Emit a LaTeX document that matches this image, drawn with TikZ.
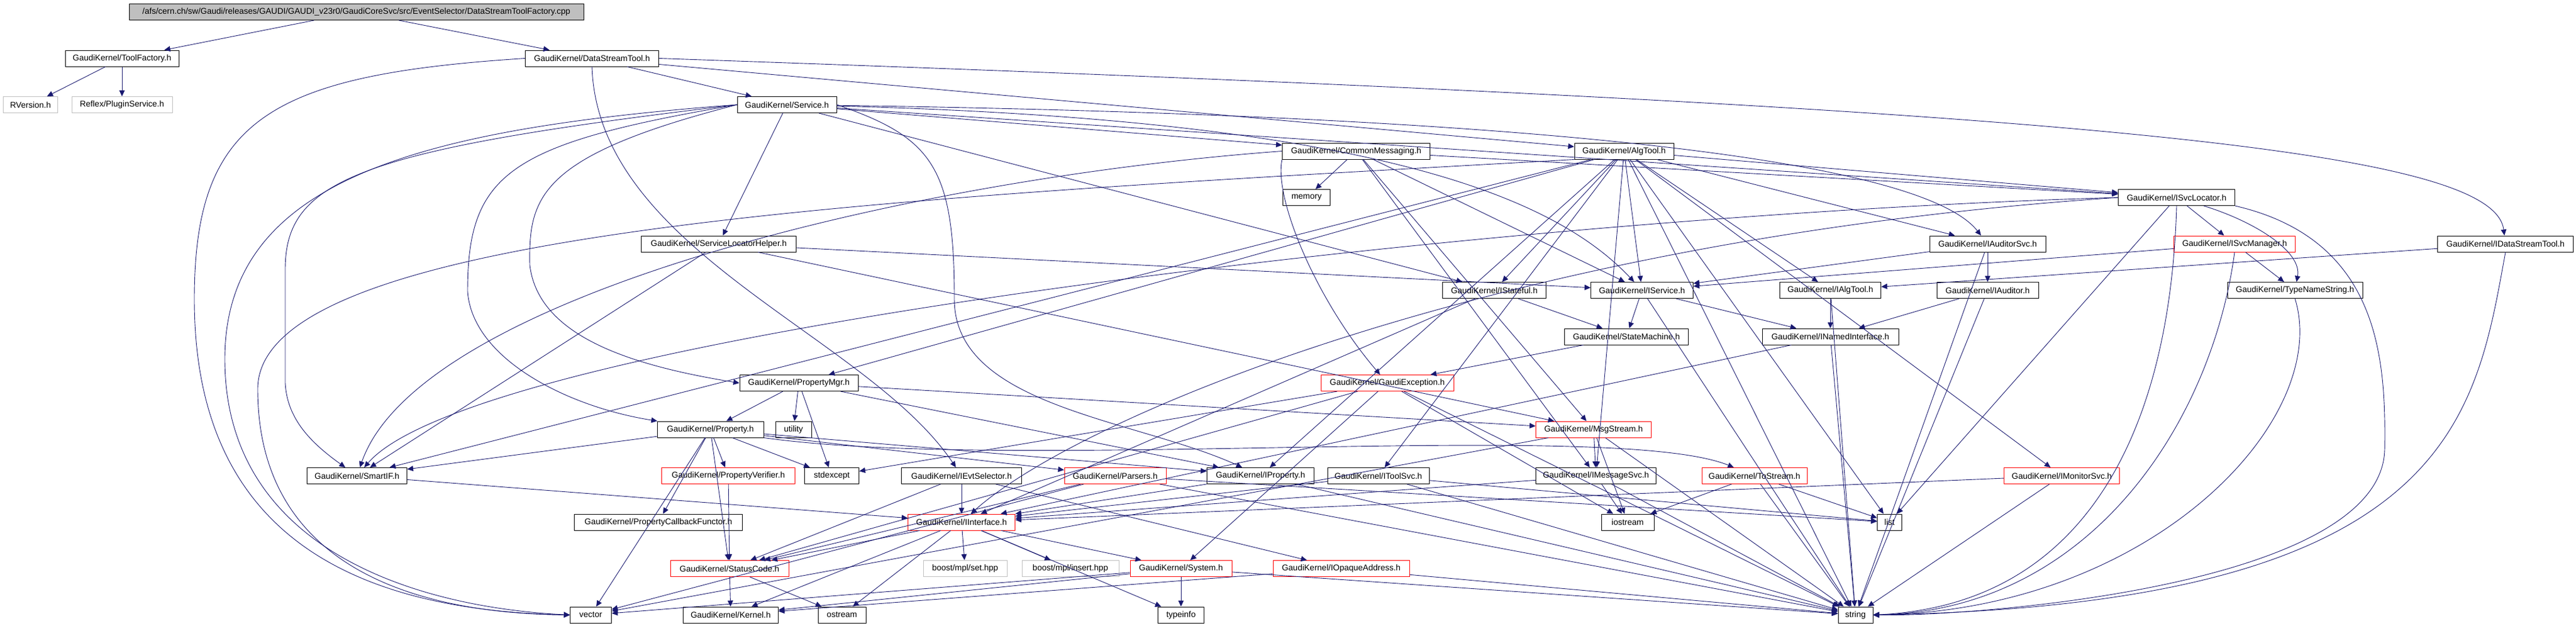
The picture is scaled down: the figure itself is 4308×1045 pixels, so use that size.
\documentclass[tikz,border=0pt]{standalone}
\usepackage{fontspec}
\setmainfont{Liberation Sans}
\usetikzlibrary{arrows.meta}
\definecolor{edgeblue}{RGB}{25,25,112}
\definecolor{rootgray}{RGB}{191,191,191}
\definecolor{leafgray}{RGB}{191,191,191}
\begin{document}
\begin{tikzpicture}[x=0.5pt,y=-0.5pt,
  box/.style={draw=black, line width=0.5pt, minimum height=13.5pt, inner xsep=5pt, inner ysep=0pt, font=\fontsize{7}{8.4}\selectfont, text=black, fill=white},
  redbox/.style={box, draw=red},
  graybox/.style={box, draw=leafgray},
  rootbox/.style={box, fill=rootgray},
  dep/.style={draw=edgeblue, line width=0.45pt, -{Triangle[length=5pt,width=4.5pt]}}]
\useasboundingbox (0,0) rectangle (4308,1045);
\fill[white] (0,0) rectangle (4308,1045);
% rank 0-2
\node[rootbox, minimum width=380pt] (root) at (596,20) {/afs/cern.ch/sw/Gaudi/releases/GAUDI/GAUDI\_v23r0/GaudiCoreSvc/src/EventSelector/DataStreamToolFactory.cpp};
\node[box, minimum width=95pt] (toolfac) at (204,97.5) {GaudiKernel/ToolFactory.h};
\node[box, minimum width=111.5pt] (dstool) at (990,97.5) {GaudiKernel/DataStreamTool.h};
\node[graybox, minimum width=45.5pt] (rversion) at (51,175) {RVersion.h};
\node[graybox, minimum width=84pt] (plugin) at (204,175) {Reflex/PluginService.h};
\node[box, minimum width=83pt] (service) at (1316,175) {GaudiKernel/Service.h};
% rank 3-4
\node[box, minimum width=123.5pt] (commsg) at (2268,252.5) {GaudiKernel/CommonMessaging.h};
\node[box, minimum width=83pt] (algtool) at (2716,252.5) {GaudiKernel/AlgTool.h};
\node[box, minimum width=39.5pt] (memory) at (2185,330) {memory};
\node[box, minimum width=97.5pt] (isvcloc) at (3640,330) {GaudiKernel/ISvcLocator.h};
% rank 5
\node[box, minimum width=129.5pt] (slhelper) at (1202,407.5) {GaudiKernel/ServiceLocatorHelper.h};
\node[box, minimum width=97pt] (iaudsvc) at (3324,407.5) {GaudiKernel/IAuditorSvc.h};
\node[redbox, minimum width=101.5pt] (isvcmgr) at (3737,407.5) {GaudiKernel/ISvcManager.h};
\node[box, minimum width=113.5pt] (idstool) at (4190,407.5) {GaudiKernel/IDataStreamTool.h};
% rank 6
\node[box, minimum width=86.5pt] (istateful) at (2499,485) {GaudiKernel/IStateful.h};
\node[box, minimum width=85.5pt] (iservice) at (2746,485) {GaudiKernel/IService.h};
\node[box, minimum width=84.5pt] (ialgtool) at (3061,485) {GaudiKernel/IAlgTool.h};
\node[box, minimum width=85pt] (iauditor) at (3324,485) {GaudiKernel/IAuditor.h};
\node[box, minimum width=113pt] (typename) at (3838,485) {GaudiKernel/TypeNameString.h};
% rank 7
\node[box, minimum width=103.5pt] (statemach) at (2720,562.5) {GaudiKernel/StateMachine.h};
\node[box, minimum width=114pt] (inamed) at (3061,562.5) {GaudiKernel/INamedInterface.h};
% rank 8
\node[box, minimum width=99pt] (propmgr) at (1336,640) {GaudiKernel/PropertyMgr.h};
\node[redbox, minimum width=111pt] (gexc) at (2320,640) {GaudiKernel/GaudiException.h};
% rank 9
\node[box, minimum width=89pt] (property) at (1188,717.5) {GaudiKernel/Property.h};
\node[box, minimum width=30pt] (utility) at (1327,717.5) {utility};
\node[redbox, minimum width=96.5pt] (msgstream) at (2665,717.5) {GaudiKernel/MsgStream.h};
% rank 10
\node[box, minimum width=83.5pt] (smartif) at (597,795) {GaudiKernel/SmartIF.h};
\node[redbox, minimum width=111.5pt] (propverif) at (1218,795) {GaudiKernel/PropertyVerifier.h};
\node[box, minimum width=45.5pt] (stdexcept) at (1391,795) {stdexcept};
\node[box, minimum width=100.5pt] (ievtsel) at (1608,795) {GaudiKernel/IEvtSelector.h};
\node[redbox, minimum width=85pt] (parsers) at (1865,795) {GaudiKernel/Parsers.h};
\node[box, minimum width=89.5pt] (iproperty) at (2108,795) {GaudiKernel/IProperty.h};
\node[box, minimum width=85pt] (itoolsvc) at (2305,795) {GaudiKernel/IToolSvc.h};
\node[box, minimum width=100.5pt] (imsgsvc) at (2669,795) {GaudiKernel/IMessageSvc.h};
\node[redbox, minimum width=88pt] (tostream) at (2934,795) {GaudiKernel/ToStream.h};
\node[redbox, minimum width=96.5pt] (imonsvc) at (3448,795) {GaudiKernel/IMonitorSvc.h};
% rank 11
\node[box, minimum width=140.5pt] (pcbf) at (1101,872.5) {GaudiKernel/PropertyCallbackFunctor.h};
\node[redbox, minimum width=89.5pt] (iinterface) at (1608,872.5) {GaudiKernel/IInterface.h};
\node[box, minimum width=44pt] (iostream) at (2722,872.5) {iostream};
\node[box, minimum width=20.5pt] (list) at (3160,872.5) {list};
% rank 12
\node[redbox, minimum width=99pt] (statuscode) at (1220,950) {GaudiKernel/StatusCode.h};
\node[graybox, minimum width=70pt] (mplset) at (1614,950) {boost/mpl/set.hpp};
\node[graybox, minimum width=81pt] (mplinsert) at (1790,950) {boost/mpl/insert.hpp};
\node[redbox, minimum width=85pt] (system) at (1975,950) {GaudiKernel/System.h};
\node[redbox, minimum width=114pt] (iopaque) at (2243,950) {GaudiKernel/IOpaqueAddress.h};
% rank 13
\node[box, minimum width=34.5pt] (vector) at (988,1027.5) {vector};
\node[box, minimum width=79.5pt] (kernel) at (1222,1027.5) {GaudiKernel/Kernel.h};
\node[box, minimum width=40pt] (ostream) at (1408,1027.5) {ostream};
\node[box, minimum width=38.5pt] (typeinfo) at (1975,1027.5) {typeinfo};
\node[box, minimum width=29pt] (string) at (3103,1027.5) {string};
% ---------------- edges
\draw[dep] (root) -- (toolfac);
\draw[dep] (root) -- (dstool);
\draw[dep] (toolfac) -- (rversion);
\draw[dep] (toolfac) -- (plugin);
\draw[dep] (dstool) -- (service);
\draw[dep] (dstool) -- (algtool);
\draw[dep] (dstool.east) .. controls (3500,180) and (4170,250) .. (idstool);
\draw[dep] (dstool.south) .. controls (1000,420) and (1450,560) .. (ievtsel);
\draw[dep] (dstool.west) .. controls (450,125) and (325,200) .. (325,500) .. controls (325,900) and (600,1020) .. (vector.west);
% Service
\draw[dep] (service) -- (slhelper);
\draw[dep] (service) -- (commsg);
\draw[dep] (service) -- (isvcloc);
\draw[dep] (service) .. controls (2300,200) and (2600,330) .. (iservice);
\draw[dep] (service) -- (istateful);
\draw[dep] (service) .. controls (2400,190) and (3200,250) .. (iaudsvc);
\draw[dep] (service.west) .. controls (900,260) and (884,330) .. (886,443) .. controls (900,560) and (1050,610) .. (propmgr.west);
\draw[dep] (service.west) .. controls (850,240) and (782,290) .. (782,487) .. controls (790,600) and (950,680) .. (property);
\draw[dep] (service.east) .. controls (1560,230) and (1596,280) .. (1596,500) .. controls (1596,680) and (1900,700) .. (iproperty);
\draw[dep] (service.west) .. controls (600,250) and (477,300) .. (477,450) -- (477,640) .. controls (480,700) and (520,740) .. (smartif);
\draw[dep] (service.west) .. controls (700,215) and (376,300) .. (376,600) .. controls (376,920) and (700,1015) .. (vector.west);
% CommonMessaging
\draw[dep] (commsg) -- (memory);
\draw[dep] (commsg.south west) .. controls (2130,330) and (2200,500) .. (gexc);
\draw[dep] (commsg) -- (msgstream);
\draw[dep] (commsg) -- (imsgsvc);
\draw[dep] (commsg) -- (iservice);
\draw[dep] (commsg) -- (isvcloc);
\draw[dep] (commsg.west) .. controls (1500,300) and (700,500) .. (smartif);
% AlgTool
\draw[dep] (algtool) -- (ialgtool);
\draw[dep] (algtool) -- (iservice);
\draw[dep] (algtool) -- (istateful);
\draw[dep] (algtool) -- (iaudsvc);
\draw[dep] (algtool) -- (isvcloc);
\draw[dep] (algtool) -- (propmgr);
\draw[dep] (algtool) -- (iproperty);
\draw[dep] (algtool) -- (imsgsvc);
\draw[dep] (algtool) -- (itoolsvc);
\draw[dep] (algtool) -- (imonsvc);
\draw[dep] (algtool) -- (smartif);
\draw[dep] (algtool) -- (list);
\draw[dep] (algtool) -- (string);
\draw[dep] (algtool.south west) .. controls (1500,330) and (431,380) .. (431,650) .. controls (431,950) and (700,1025) .. (vector.west);
% ServiceLocatorHelper
\draw[dep] (slhelper) -- (iservice);
\draw[dep] (slhelper) -- (msgstream);
\draw[dep] (slhelper) -- (smartif);
% ISvcLocator and friends
\draw[dep] (isvcloc) -- (isvcmgr);
\draw[dep] (isvcloc) .. controls (3770,370) and (3850,420) .. (typename);
\draw[dep] (isvcloc) -- (list);
\draw[dep] (isvcloc.south) .. controls (3630,700) and (3500,1010) .. (string.east);
\draw[dep] (isvcloc.south east) .. controls (3980,400) and (3990,600) .. (3988,750) .. controls (3985,980) and (3300,1030) .. (string.east);
\draw[dep] (isvcloc.west) .. controls (2500,400) and (1800,700) .. (iinterface);
\draw[dep] (isvcloc.west) .. controls (2500,360) and (800,560) .. (smartif);
\draw[dep] (isvcmgr) -- (typename);
\draw[dep] (isvcmgr) -- (iservice);
\draw[dep] (isvcmgr.south) .. controls (3700,700) and (3500,1020) .. (string.east);
\draw[dep] (idstool) -- (ialgtool);
\draw[dep] (idstool.south) .. controls (4139,700) and (4100,1010) .. (string.east);
\draw[dep] (iaudsvc) -- (iauditor);
\draw[dep] (iaudsvc) -- (iservice);
\draw[dep] (iaudsvc) -- (string);
% rank 6 / 7
\draw[dep] (istateful) -- (statemach);
\draw[dep] (istateful) -- (iinterface);
\draw[dep] (iservice) -- (statemach);
\draw[dep] (iservice) -- (inamed);
\draw[dep] (iservice) -- (string);
\draw[dep] (ialgtool) -- (inamed);
\draw[dep] (ialgtool) -- (string);
\draw[dep] (iauditor) -- (inamed);
\draw[dep] (iauditor) -- (string);
\draw[dep] (typename.south) .. controls (3900,700) and (3600,1020) .. (string.east);
\draw[dep] (statemach) -- (gexc);
\draw[dep] (inamed) -- (iinterface);
\draw[dep] (inamed) -- (string);
% GaudiException
\draw[dep] (gexc) -- (string);
\draw[dep] (gexc) -- (iostream);
\draw[dep] (gexc) -- (statuscode);
\draw[dep] (gexc) -- (system);
\draw[dep] (gexc) -- (stdexcept);
% PropertyMgr
\draw[dep] (propmgr) -- (property);
\draw[dep] (propmgr) -- (utility);
\draw[dep] (propmgr) -- (stdexcept);
\draw[dep] (propmgr) -- (iproperty);
\draw[dep] (propmgr) -- (msgstream);
% Property
\draw[dep] (property) -- (smartif);
\draw[dep] (property) -- (propverif);
\draw[dep] (property) -- (pcbf);
\draw[dep] (property) -- (parsers);
\draw[dep] (property.south east) .. controls (1700,790) and (2700,700) .. (tostream);
\draw[dep] (property) -- (iproperty);
\draw[dep] (property) -- (stdexcept);
\draw[dep] (property) -- (statuscode);
\draw[dep] (property) -- (vector);
% MsgStream
\draw[dep] (msgstream) -- (imsgsvc);
\draw[dep] (msgstream) -- (iostream);
\draw[dep] (msgstream) -- (string);
\draw[dep] (msgstream) -- (vector);
% rank 10
\draw[dep] (smartif) -- (iinterface);
\draw[dep] (propverif) -- (statuscode);
\draw[dep] (parsers) -- (statuscode);
\draw[dep] (parsers) -- (string);
\draw[dep] (parsers) -- (vector);
\draw[dep] (parsers) -- (list);
\draw[dep] (iproperty) -- (iinterface);
\draw[dep] (iproperty) -- (string);
\draw[dep] (itoolsvc) -- (iinterface);
\draw[dep] (itoolsvc) -- (list);
\draw[dep] (itoolsvc) -- (string);
\draw[dep] (imsgsvc) -- (iinterface);
\draw[dep] (imsgsvc) -- (iostream);
\draw[dep] (imsgsvc) -- (string);
\draw[dep] (tostream) -- (iostream);
\draw[dep] (tostream) -- (list);
\draw[dep] (tostream) -- (string);
\draw[dep] (imonsvc) -- (iinterface);
\draw[dep] (imonsvc) -- (string);
\draw[dep] (ievtsel) -- (iinterface);
\draw[dep] (ievtsel) -- (iopaque);
\draw[dep] (ievtsel) -- (statuscode);
% rank 11
\draw[dep] (iinterface) -- (statuscode);
\draw[dep] (iinterface) -- (kernel);
\draw[dep] (iinterface) -- (system);
\draw[dep] (iinterface) -- (mplset);
\draw[dep] (iinterface) -- (mplinsert);
\draw[dep] (iinterface) -- (ostream);
\draw[dep] (iinterface) -- (typeinfo);
% rank 12
\draw[dep] (statuscode) -- (kernel);
\draw[dep] (statuscode) -- (ostream);
\draw[dep] (system) -- (kernel);
\draw[dep] (system) -- (typeinfo);
\draw[dep] (system) -- (string);
\draw[dep] (system) -- (vector);
\draw[dep] (iopaque) -- (kernel);
\draw[dep] (iopaque) -- (string);
\end{tikzpicture}
\end{document}
